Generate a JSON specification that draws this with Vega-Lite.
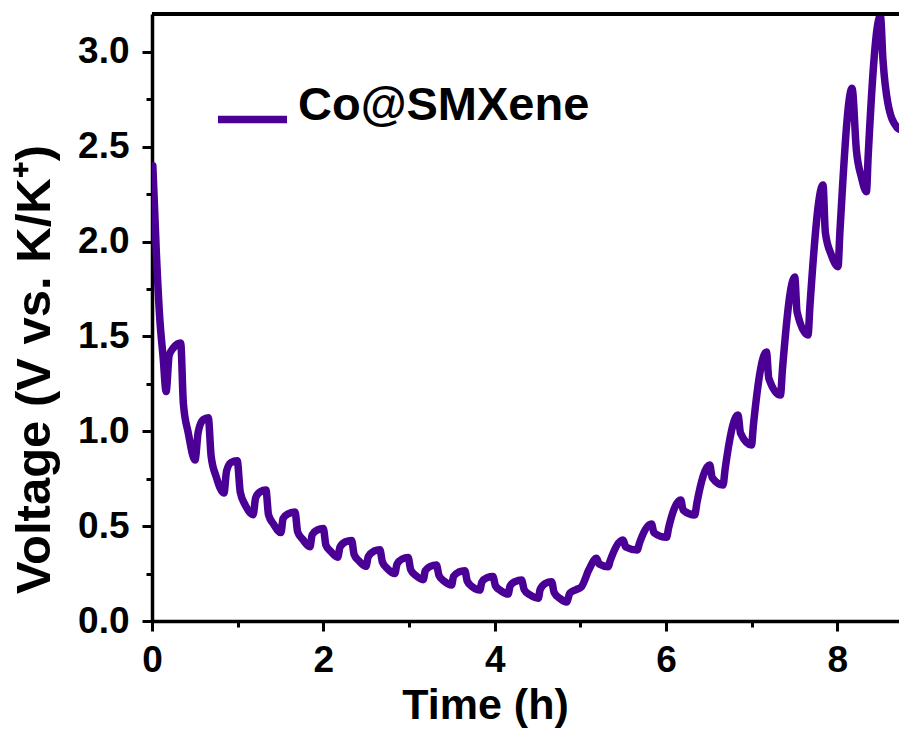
{
  "$schema": "https://vega.github.io/schema/vega-lite/v6.json",
  "width": 747,
  "height": 607,
  "autosize": "none",
  "padding": {"left": 152, "top": 14, "right": 0, "bottom": 113},
  "background": "white",
  "config": {
    "view": {"stroke": null},
    "font": "Liberation Sans",
    "axis": {
      "grid": false,
      "domainColor": "black",
      "domainWidth": 3.5,
      "tickColor": "black",
      "tickWidth": 3,
      "labelFont": "Liberation Sans",
      "labelFontWeight": "bold",
      "labelColor": "black",
      "titleFont": "Liberation Sans",
      "titleFontWeight": "bold",
      "titleColor": "black"
    }
  },
  "data": {
    "values": [
      {"t": 0.01, "v": 2.40}, {"t": 0.05, "v": 1.95}, {"t": 0.09, "v": 1.60}, {"t": 0.13, "v": 1.39}, {"t": 0.165, "v": 1.21},
      {"t": 0.20, "v": 1.40}, {"t": 0.25, "v": 1.44}, {"t": 0.335, "v": 1.465},
      {"t": 0.366, "v": 1.148}, {"t": 0.424, "v": 0.99}, {"t": 0.502, "v": 0.849},
      {"t": 0.54, "v": 0.998}, {"t": 0.60, "v": 1.062}, {"t": 0.657, "v": 1.072},
      {"t": 0.69, "v": 0.87}, {"t": 0.75, "v": 0.76}, {"t": 0.84, "v": 0.675},
      {"t": 0.87, "v": 0.79}, {"t": 0.92, "v": 0.835}, {"t": 0.995, "v": 0.845},
      {"t": 1.03, "v": 0.68}, {"t": 1.09, "v": 0.61}, {"t": 1.18, "v": 0.56},
      {"t": 1.21, "v": 0.65}, {"t": 1.26, "v": 0.68}, {"t": 1.33, "v": 0.69},
      {"t": 1.36, "v": 0.56}, {"t": 1.42, "v": 0.51}, {"t": 1.505, "v": 0.466},
      {"t": 1.53, "v": 0.54}, {"t": 1.59, "v": 0.565}, {"t": 1.67, "v": 0.574},
      {"t": 1.70, "v": 0.47}, {"t": 1.76, "v": 0.43}, {"t": 1.844, "v": 0.392},
      {"t": 1.87, "v": 0.455}, {"t": 1.93, "v": 0.48}, {"t": 2.0, "v": 0.487},
      {"t": 2.03, "v": 0.40}, {"t": 2.09, "v": 0.365}, {"t": 2.167, "v": 0.336},
      {"t": 2.195, "v": 0.39}, {"t": 2.26, "v": 0.418}, {"t": 2.33, "v": 0.425},
      {"t": 2.36, "v": 0.35}, {"t": 2.42, "v": 0.315}, {"t": 2.497, "v": 0.288},
      {"t": 2.525, "v": 0.34}, {"t": 2.59, "v": 0.368}, {"t": 2.66, "v": 0.376},
      {"t": 2.69, "v": 0.31}, {"t": 2.75, "v": 0.275}, {"t": 2.835, "v": 0.25},
      {"t": 2.86, "v": 0.30}, {"t": 2.92, "v": 0.327}, {"t": 2.99, "v": 0.335},
      {"t": 3.02, "v": 0.27}, {"t": 3.08, "v": 0.24}, {"t": 3.166, "v": 0.218},
      {"t": 3.19, "v": 0.265}, {"t": 3.25, "v": 0.288}, {"t": 3.32, "v": 0.295},
      {"t": 3.35, "v": 0.24}, {"t": 3.41, "v": 0.21}, {"t": 3.497, "v": 0.19},
      {"t": 3.52, "v": 0.235}, {"t": 3.58, "v": 0.258}, {"t": 3.652, "v": 0.265},
      {"t": 3.68, "v": 0.21}, {"t": 3.74, "v": 0.18}, {"t": 3.827, "v": 0.163},
      {"t": 3.85, "v": 0.205}, {"t": 3.91, "v": 0.228}, {"t": 3.98, "v": 0.234},
      {"t": 4.01, "v": 0.185}, {"t": 4.07, "v": 0.16}, {"t": 4.158, "v": 0.142},
      {"t": 4.18, "v": 0.185}, {"t": 4.24, "v": 0.208}, {"t": 4.314, "v": 0.216},
      {"t": 4.345, "v": 0.165}, {"t": 4.41, "v": 0.138}, {"t": 4.51, "v": 0.12},
      {"t": 4.53, "v": 0.165}, {"t": 4.59, "v": 0.198}, {"t": 4.664, "v": 0.207},
      {"t": 4.695, "v": 0.15}, {"t": 4.76, "v": 0.12}, {"t": 4.84, "v": 0.10},
      {"t": 4.877, "v": 0.146}, {"t": 4.95, "v": 0.165}, {"t": 5.014, "v": 0.181},
      {"t": 5.10, "v": 0.27}, {"t": 5.189, "v": 0.331},
      {"t": 5.22, "v": 0.30}, {"t": 5.324, "v": 0.286},
      {"t": 5.35, "v": 0.32}, {"t": 5.499, "v": 0.427},
      {"t": 5.53, "v": 0.39}, {"t": 5.663, "v": 0.374},
      {"t": 5.69, "v": 0.41}, {"t": 5.831, "v": 0.511},
      {"t": 5.86, "v": 0.465}, {"t": 6.006, "v": 0.441},
      {"t": 6.03, "v": 0.49}, {"t": 6.173, "v": 0.638},
      {"t": 6.20, "v": 0.585}, {"t": 6.336, "v": 0.559},
      {"t": 6.36, "v": 0.62}, {"t": 6.511, "v": 0.822},
      {"t": 6.54, "v": 0.755}, {"t": 6.666, "v": 0.717},
      {"t": 6.69, "v": 0.80}, {"t": 6.841, "v": 1.086},
      {"t": 6.87, "v": 0.99}, {"t": 6.998, "v": 0.928},
      {"t": 7.02, "v": 1.03}, {"t": 7.173, "v": 1.418},
      {"t": 7.20, "v": 1.28}, {"t": 7.336, "v": 1.191},
      {"t": 7.36, "v": 1.33}, {"t": 7.503, "v": 1.813},
      {"t": 7.53, "v": 1.63}, {"t": 7.658, "v": 1.508},
      {"t": 7.68, "v": 1.66}, {"t": 7.833, "v": 2.298},
      {"t": 7.86, "v": 2.05}, {"t": 7.93, "v": 1.93}, {"t": 8.008, "v": 1.868},
      {"t": 8.03, "v": 2.05}, {"t": 8.172, "v": 2.808},
      {"t": 8.223, "v": 2.48}, {"t": 8.281, "v": 2.34}, {"t": 8.34, "v": 2.263},
      {"t": 8.36, "v": 2.45}, {"t": 8.503, "v": 3.19},
      {"t": 8.533, "v": 2.957}, {"t": 8.59, "v": 2.73}, {"t": 8.69, "v": 2.606}, {"t": 8.716, "v": 2.594}
    ]
  },
  "layer": [
    {
      "mark": {"type": "line", "strokeWidth": 7.5, "strokeJoin": "round", "strokeCap": "round", "clip": true, "interpolate": "monotone"},
      "encoding": {
        "x": {
          "field": "t", "type": "quantitative",
          "scale": {"domain": [0, 8.72], "nice": false, "zero": false},
          "axis": {"orient": "bottom", "values": [0, 2, 4, 6, 8], "tickSize": 10, "labelFontSize": 37, "labelPadding": 11, "labelFlush": false,
                   "title": "Time (h)", "titleFontSize": 43, "titleX": 333, "titleY": 97, "titleBaseline": "alphabetic", "titleAnchor": "middle"}
        },
        "y": {
          "field": "v", "type": "quantitative",
          "scale": {"domain": [0, 3.2], "nice": false},
          "axis": {"orient": "left", "values": [0, 0.5, 1, 1.5, 2, 2.5, 3], "format": ".1f", "tickSize": 10, "labelFontSize": 37, "labelPadding": 13,
                   "title": "Voltage (V vs. K/K⁺)", "titleFontSize": 49, "titleX": -103, "titleY": 355, "titleAnchor": "middle", "titleBaseline": "alphabetic"}
        },
        "color": {
          "datum": "Co@SMXene",
          "scale": {"range": ["#4a0094"]},
          "legend": {
            "title": null, "orient": "none", "legendX": 62, "legendY": 67, "padding": 0,
            "symbolType": "stroke", "symbolSize": 4761, "symbolStrokeWidth": 7.5,
            "labelFontSize": 47, "labelFontWeight": "bold", "labelColor": "black", "labelFont": "Liberation Sans",
            "labelOffset": 7, "labelBaseline": "alphabetic", "labelLimit": 600
          }
        }
      }
    },
    {
      "mark": {"type": "line", "strokeOpacity": 0},
      "encoding": {
        "x": {"field": "t", "type": "quantitative",
              "axis": {"orient": "bottom", "values": [1, 3, 5, 7], "tickSize": 6, "labels": false, "domain": false, "title": null}},
        "y": {"field": "v", "type": "quantitative",
              "axis": {"orient": "left", "values": [0.25, 0.75, 1.25, 1.75, 2.25, 2.75], "tickSize": 6, "labels": false, "domain": false, "title": null}}
      }
    },
    {
      "mark": {"type": "rule", "color": "black", "strokeWidth": 3},
      "encoding": {"y": {"datum": 3.2, "axis": null}}
    }
  ],
  "resolve": {"axis": {"x": "independent", "y": "independent"}}
}
